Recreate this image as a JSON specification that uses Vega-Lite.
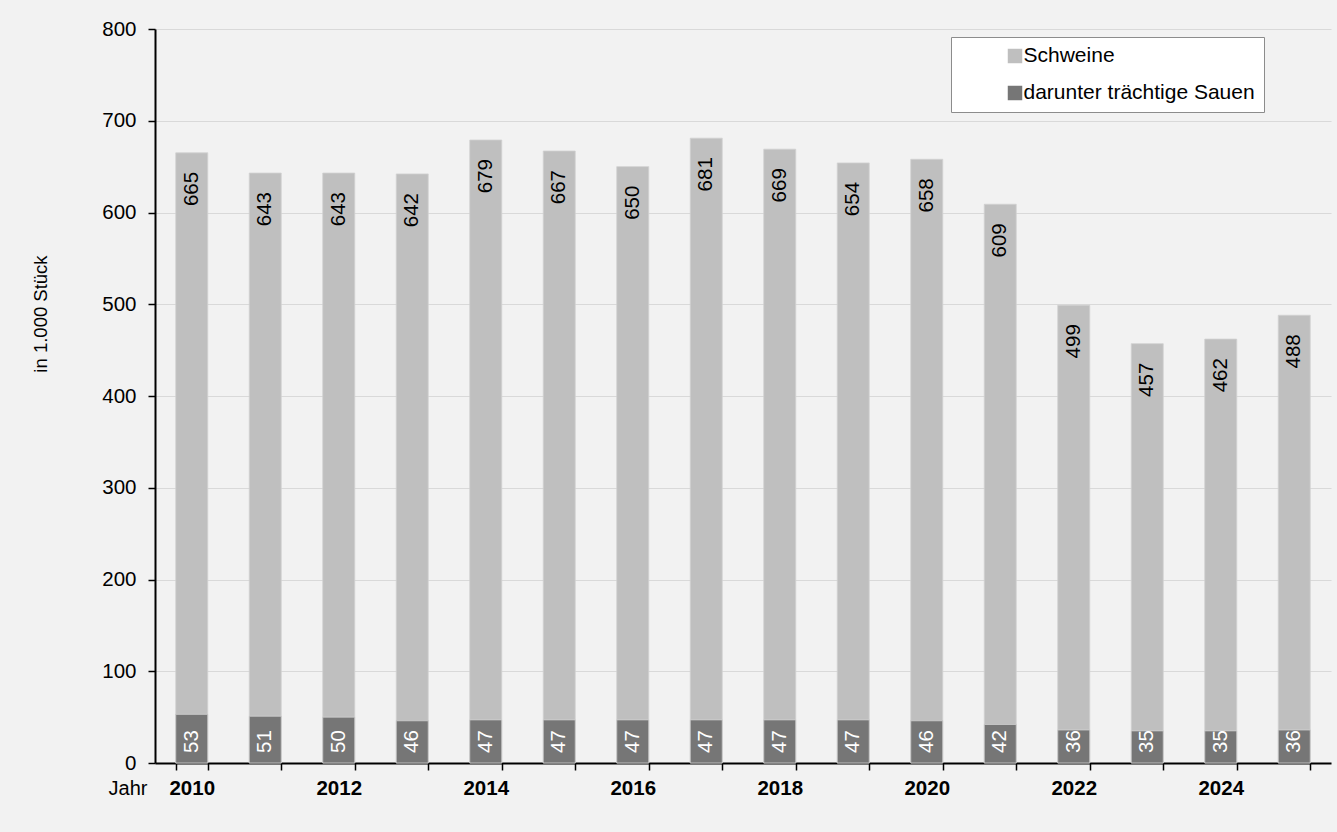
{
  "$schema": "https://vega.github.io/schema/vega-lite/v6.json",
  "width": 1176,
  "height": 734,
  "autosize": "none",
  "padding": {"left": 155, "top": 29, "right": 6, "bottom": 69},
  "background": "#f2f2f2",
  "config": {
    "view": {"stroke": null},
    "font": "Liberation Sans",
    "axis": {
      "domainColor": "#000000",
      "domainWidth": 2,
      "tickColor": "#000000",
      "tickWidth": 1.5,
      "tickSize": 7,
      "labelColor": "#000000",
      "labelFont": "Liberation Sans",
      "titleFont": "Liberation Sans",
      "titleColor": "#000000",
      "gridColor": "#d9d9d9",
      "gridWidth": 1
    }
  },
  "data": {
    "values": [
      {"Jahr": "2010", "Kategorie": "Schweine", "Wert": 665},
      {"Jahr": "2011", "Kategorie": "Schweine", "Wert": 643},
      {"Jahr": "2012", "Kategorie": "Schweine", "Wert": 643},
      {"Jahr": "2013", "Kategorie": "Schweine", "Wert": 642},
      {"Jahr": "2014", "Kategorie": "Schweine", "Wert": 679},
      {"Jahr": "2015", "Kategorie": "Schweine", "Wert": 667},
      {"Jahr": "2016", "Kategorie": "Schweine", "Wert": 650},
      {"Jahr": "2017", "Kategorie": "Schweine", "Wert": 681},
      {"Jahr": "2018", "Kategorie": "Schweine", "Wert": 669},
      {"Jahr": "2019", "Kategorie": "Schweine", "Wert": 654},
      {"Jahr": "2020", "Kategorie": "Schweine", "Wert": 658},
      {"Jahr": "2021", "Kategorie": "Schweine", "Wert": 609},
      {"Jahr": "2022", "Kategorie": "Schweine", "Wert": 499},
      {"Jahr": "2023", "Kategorie": "Schweine", "Wert": 457},
      {"Jahr": "2024", "Kategorie": "Schweine", "Wert": 462},
      {"Jahr": "2025", "Kategorie": "Schweine", "Wert": 488},
      {"Jahr": "2010", "Kategorie": "darunter trächtige Sauen", "Wert": 53},
      {"Jahr": "2011", "Kategorie": "darunter trächtige Sauen", "Wert": 51},
      {"Jahr": "2012", "Kategorie": "darunter trächtige Sauen", "Wert": 50},
      {"Jahr": "2013", "Kategorie": "darunter trächtige Sauen", "Wert": 46},
      {"Jahr": "2014", "Kategorie": "darunter trächtige Sauen", "Wert": 47},
      {"Jahr": "2015", "Kategorie": "darunter trächtige Sauen", "Wert": 47},
      {"Jahr": "2016", "Kategorie": "darunter trächtige Sauen", "Wert": 47},
      {"Jahr": "2017", "Kategorie": "darunter trächtige Sauen", "Wert": 47},
      {"Jahr": "2018", "Kategorie": "darunter trächtige Sauen", "Wert": 47},
      {"Jahr": "2019", "Kategorie": "darunter trächtige Sauen", "Wert": 47},
      {"Jahr": "2020", "Kategorie": "darunter trächtige Sauen", "Wert": 46},
      {"Jahr": "2021", "Kategorie": "darunter trächtige Sauen", "Wert": 42},
      {"Jahr": "2022", "Kategorie": "darunter trächtige Sauen", "Wert": 36},
      {"Jahr": "2023", "Kategorie": "darunter trächtige Sauen", "Wert": 35},
      {"Jahr": "2024", "Kategorie": "darunter trächtige Sauen", "Wert": 35},
      {"Jahr": "2025", "Kategorie": "darunter trächtige Sauen", "Wert": 36}
    ]
  },
  "encoding": {
    "x": {
      "field": "Jahr",
      "type": "ordinal",
      "scale": {"paddingInner": 0.565, "paddingOuter": 0.2825},
      "axis": {
        "title": "Jahr",
        "titleFontSize": 20,
        "titleFontWeight": "normal",
        "titleAlign": "right",
        "titleBaseline": "middle",
        "titleAnchor": "start",
        "titleX": -8,
        "titleY": 25,
        "labelAngle": 0,
        "labelFontSize": 20.5,
        "labelFontWeight": "bold",
        "labelBaseline": "middle",
        "labelPadding": 18,
        "tickBand": "extent",
        "labelExpr": "toNumber(datum.value) % 2 === 0 ? datum.label : ''"
      }
    }
  },
  "layer": [
    {
      "mark": {"type": "bar", "stroke": "#d0d0d0", "strokeWidth": 0.8},
      "encoding": {
        "y": {
          "field": "Wert",
          "type": "quantitative",
          "stack": null,
          "scale": {"domain": [0, 800], "nice": false},
          "axis": {
            "title": "in 1.000 Stück",
            "titleFontSize": 18.5,
            "titleFontWeight": "normal",
            "titleAngle": -90,
            "titleAlign": "center",
            "titleBaseline": "middle",
            "titleX": -115,
            "titleY": 284.5,
            "values": [0, 100, 200, 300, 400, 500, 600, 700, 800],
            "labelFontSize": 20.5,
            "labelPadding": 12,
            "grid": true
          }
        },
        "color": {
          "field": "Kategorie",
          "type": "nominal",
          "scale": {
            "domain": ["Schweine", "darunter trächtige Sauen"],
            "range": ["#bfbfbf", "#767676"]
          },
          "legend": {
            "title": null,
            "orient": "none",
            "legendX": 796,
            "legendY": 8,
            "fillColor": "#ffffff",
            "strokeColor": "#8c8c8c",
            "padding": 8.5,
            "symbolType": "square",
            "symbolSize": 210,
            "symbolStrokeWidth": 0,
            "symbolOffset": 45,
            "labelOffset": -2,
            "labelFontSize": 21,
            "labelColor": "#000000",
            "labelFont": "Liberation Sans",
            "rowPadding": 15,
            "labelLimit": 500,
            "encode": {"entries": {"width": {"value": 348}}}
          }
        },
        "order": {"field": "Kategorie", "sort": "ascending"}
      }
    },
    {
      "transform": [{"filter": "datum.Kategorie === 'Schweine'"}],
      "mark": {
        "type": "text",
        "angle": -90,
        "align": "right",
        "baseline": "middle",
        "dx": -19,
        "fontSize": 20.5,
        "fill": "#000000"
      },
      "encoding": {
        "y": {"field": "Wert", "type": "quantitative"},
        "text": {"field": "Wert", "type": "quantitative"}
      }
    },
    {
      "transform": [{"filter": "datum.Kategorie !== 'Schweine'"}],
      "mark": {
        "type": "text",
        "angle": -90,
        "align": "left",
        "baseline": "middle",
        "dx": 10,
        "fontSize": 20.5,
        "fill": "#ffffff"
      },
      "encoding": {
        "y": {"datum": 0, "type": "quantitative"},
        "text": {"field": "Wert", "type": "quantitative"}
      }
    }
  ]
}
